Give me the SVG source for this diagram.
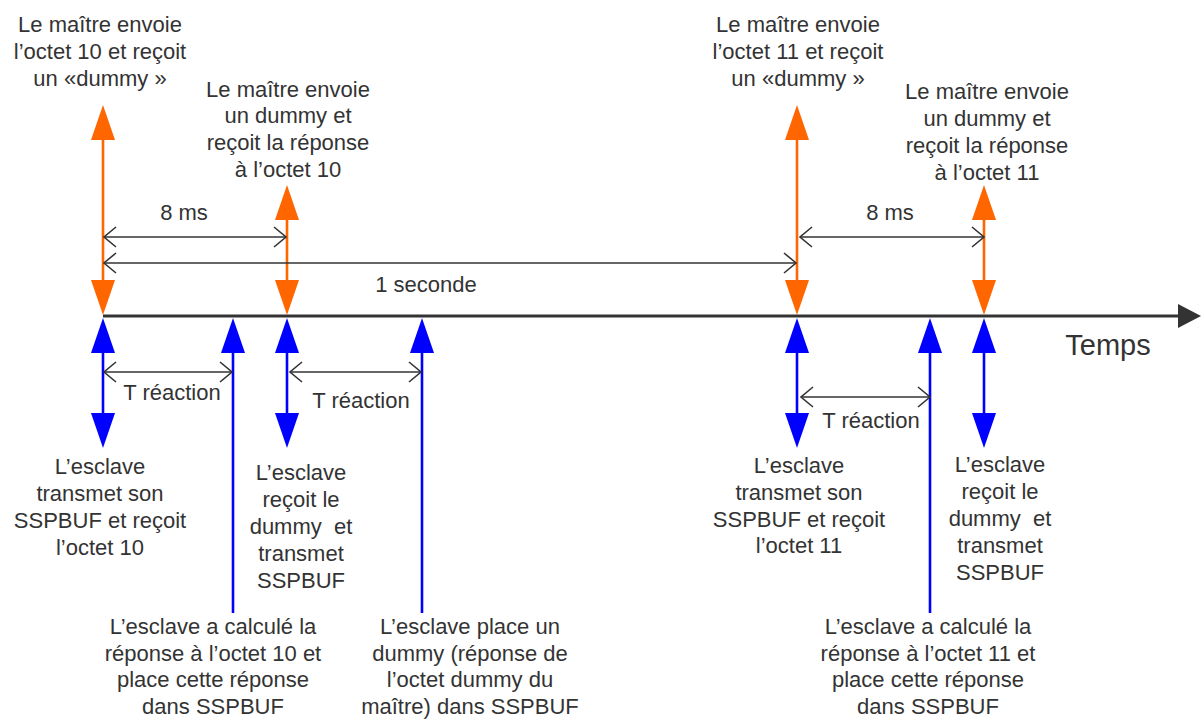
<svg xmlns="http://www.w3.org/2000/svg" width="1201" height="720" viewBox="0 0 1201 720">
<style>
.t{font-family:"Liberation Sans",Arial,sans-serif;font-size:22px;fill:#333;text-anchor:middle}
.big{font-size:29px}
.dim{stroke:#333;stroke-width:1.6;fill:none}
.or{stroke:#FF6600;stroke-width:2.6;fill:none}
.bl{stroke:#0000FF;stroke-width:2.6;fill:none}
.orh{fill:#FF6600}
.blh{fill:#0000FF}
</style>
<defs>
<marker id="chev" viewBox="-14 -12 16 24" markerWidth="16" markerHeight="24" refX="0" refY="0" orient="auto-start-reverse" markerUnits="userSpaceOnUse">
<path d="M-12,-10 L0,0 L-12,10" fill="none" stroke="#333" stroke-width="1.6"/>
</marker>
</defs>
<rect width="1201" height="720" fill="#fff"/>

<g id="axis">
<line x1="103" y1="316" x2="1180" y2="316" stroke="#333" stroke-width="3"/>
<polygon points="1178,304 1201,316 1178,328" fill="#333"/>
<text class="t big" x="1108" y="355">Temps</text>
</g>

<g id="connectors">
<!-- orange master arrows -->
<g id="m1">
<line class="or" x1="103" y1="138" x2="103" y2="282"/>
<polygon class="orh" points="103,105 91,140 115,140"/>
<polygon class="orh" points="91,280 115,280 103,315"/>
</g>
<g id="m2">
<line class="or" x1="287" y1="218" x2="287" y2="282"/>
<polygon class="orh" points="287,185 275,220 299,220"/>
<polygon class="orh" points="275,280 299,280 287,315"/>
</g>
<g id="m3">
<line class="or" x1="797" y1="138" x2="797" y2="282"/>
<polygon class="orh" points="797,105 785,140 809,140"/>
<polygon class="orh" points="785,280 809,280 797,315"/>
</g>
<g id="m4">
<line class="or" x1="984" y1="218" x2="984" y2="282"/>
<polygon class="orh" points="984,185 972,220 996,220"/>
<polygon class="orh" points="972,280 996,280 984,315"/>
</g>
<!-- blue slave arrows -->
<g id="s1">
<line class="bl" x1="103" y1="350" x2="103" y2="415"/>
<polygon class="blh" points="103,318 91,353 115,353"/>
<polygon class="blh" points="91,413 115,413 103,448"/>
</g>
<g id="s2">
<line class="bl" x1="233" y1="350" x2="233" y2="613"/>
<polygon class="blh" points="233,318 221,353 245,353"/>
</g>
<g id="s3">
<line class="bl" x1="287" y1="350" x2="287" y2="415"/>
<polygon class="blh" points="287,318 275,353 299,353"/>
<polygon class="blh" points="275,413 299,413 287,448"/>
</g>
<g id="s4">
<line class="bl" x1="422" y1="350" x2="422" y2="613"/>
<polygon class="blh" points="422,318 410,353 434,353"/>
</g>
<g id="s5">
<line class="bl" x1="797" y1="350" x2="797" y2="415"/>
<polygon class="blh" points="797,318 785,353 809,353"/>
<polygon class="blh" points="785,413 809,413 797,448"/>
</g>
<g id="s6">
<line class="bl" x1="930" y1="350" x2="930" y2="613"/>
<polygon class="blh" points="930,318 918,353 942,353"/>
</g>
<g id="s7">
<line class="bl" x1="984" y1="350" x2="984" y2="415"/>
<polygon class="blh" points="984,318 972,353 996,353"/>
<polygon class="blh" points="972,413 996,413 984,448"/>
</g>
<!-- dimension lines -->
<line class="dim" x1="104" y1="237" x2="286" y2="237" marker-start="url(#chev)" marker-end="url(#chev)"/>
<line class="dim" x1="104" y1="263" x2="796" y2="263" marker-start="url(#chev)" marker-end="url(#chev)"/>
<line class="dim" x1="800" y1="237" x2="984" y2="237" marker-start="url(#chev)" marker-end="url(#chev)"/>
<line class="dim" x1="104" y1="372" x2="232" y2="372" marker-start="url(#chev)" marker-end="url(#chev)"/>
<line class="dim" x1="290" y1="372" x2="421" y2="372" marker-start="url(#chev)" marker-end="url(#chev)"/>
<line class="dim" x1="801" y1="397" x2="930" y2="397" marker-start="url(#chev)" marker-end="url(#chev)"/>
</g>

<g id="dimlabels">
<text class="t" x="184" y="220">8 ms</text>
<text class="t" x="426" y="292">1 seconde</text>
<text class="t" x="890" y="220">8 ms</text>
<text class="t" x="172" y="400">T réaction</text>
<text class="t" x="361" y="408">T réaction</text>
<text class="t" x="871" y="428">T réaction</text>
</g>

<g id="top1">
<text class="t" x="100" y="32">Le maître envoie</text>
<text class="t" x="100" y="59">l’octet 10 et reçoit</text>
<text class="t" x="100" y="86">un «dummy »</text>
</g>
<g id="top2">
<text class="t" x="288" y="97">Le maître envoie</text>
<text class="t" x="288" y="123">un dummy et</text>
<text class="t" x="288" y="150">reçoit la réponse</text>
<text class="t" x="288" y="177">à l’octet 10</text>
</g>
<g id="top3">
<text class="t" x="798" y="32">Le maître envoie</text>
<text class="t" x="798" y="59">l’octet 11 et reçoit</text>
<text class="t" x="798" y="86">un «dummy »</text>
</g>
<g id="top4">
<text class="t" x="987" y="99">Le maître envoie</text>
<text class="t" x="987" y="126">un dummy et</text>
<text class="t" x="987" y="153">reçoit la réponse</text>
<text class="t" x="987" y="180">à l’octet 11</text>
</g>

<g id="bot1">
<text class="t" x="100" y="474">L’esclave</text>
<text class="t" x="100" y="501">transmet son</text>
<text class="t" x="100" y="528">SSPBUF et reçoit</text>
<text class="t" x="100" y="555">l’octet 10</text>
</g>
<g id="bot2">
<text class="t" x="301" y="480">L’esclave</text>
<text class="t" x="301" y="507">reçoit le</text>
<text class="t" x="301" y="534" xml:space="preserve">dummy  et</text>
<text class="t" x="301" y="561">transmet</text>
<text class="t" x="301" y="588">SSPBUF</text>
</g>
<g id="bot3">
<text class="t" x="799" y="473">L’esclave</text>
<text class="t" x="799" y="500">transmet son</text>
<text class="t" x="799" y="527">SSPBUF et reçoit</text>
<text class="t" x="799" y="553">l’octet 11</text>
</g>
<g id="bot4">
<text class="t" x="1000" y="472">L’esclave</text>
<text class="t" x="1000" y="499">reçoit le</text>
<text class="t" x="1000" y="526" xml:space="preserve">dummy  et</text>
<text class="t" x="1000" y="553">transmet</text>
<text class="t" x="1000" y="580">SSPBUF</text>
</g>
<g id="long1">
<text class="t" x="213" y="634">L’esclave a calculé la</text>
<text class="t" x="213" y="661">réponse à l’octet 10 et</text>
<text class="t" x="213" y="687">place cette réponse</text>
<text class="t" x="213" y="714">dans SSPBUF</text>
</g>
<g id="long2">
<text class="t" x="470" y="634">L’esclave place un</text>
<text class="t" x="470" y="661">dummy (réponse de</text>
<text class="t" x="470" y="687">l’octet dummy du</text>
<text class="t" x="470" y="714">maître) dans SSPBUF</text>
</g>
<g id="long3">
<text class="t" x="928" y="634">L’esclave a calculé la</text>
<text class="t" x="928" y="661">réponse à l’octet 11 et</text>
<text class="t" x="928" y="687">place cette réponse</text>
<text class="t" x="928" y="714">dans SSPBUF</text>
</g>
</svg>
